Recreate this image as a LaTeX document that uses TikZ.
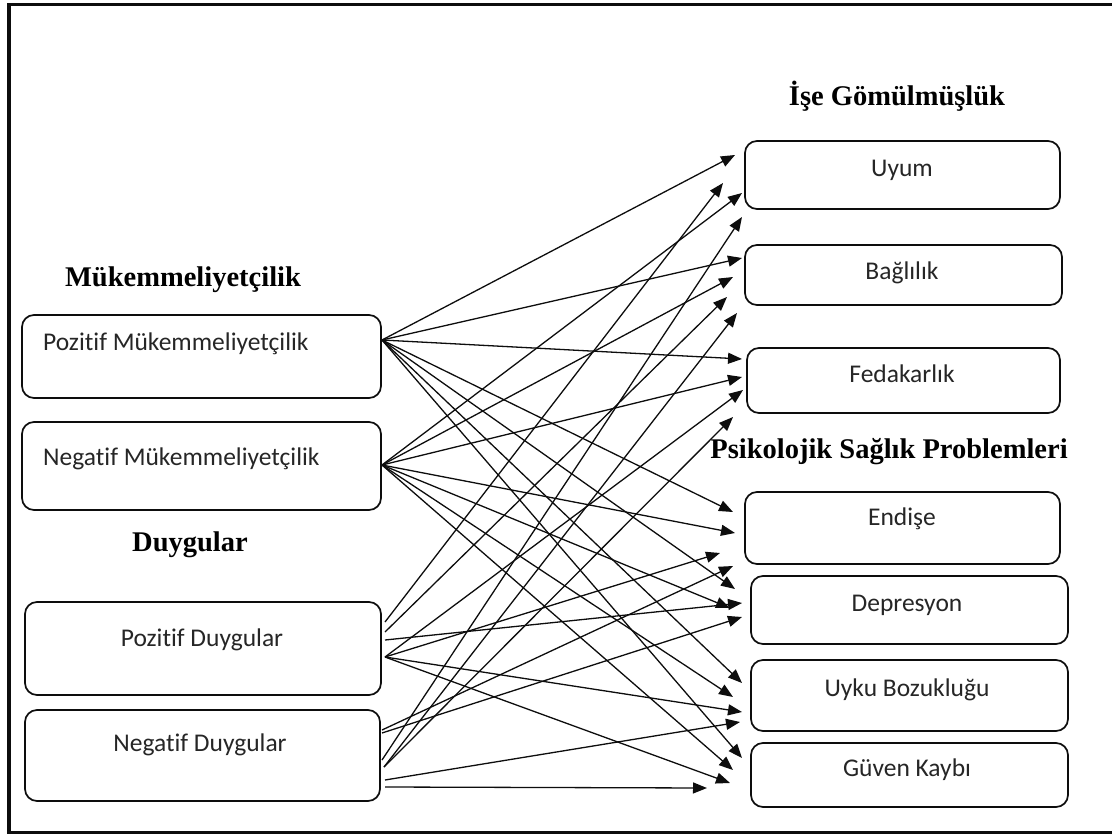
\documentclass[tikz,border=0pt]{standalone}
\usepackage{fontspec}
\setmainfont{Liberation Serif}
\newfontfamily\boxfont[Ligatures=NoCommon]{Carlito}
\usetikzlibrary{arrows.meta,fit}
\definecolor{ink}{gray}{0.05}
\definecolor{boxtext}{gray}{0.15}
\begin{document}
\begin{tikzpicture}[x=1pt,y=-1pt,
  panel/.style={draw=ink, line width=1.7pt, rounded corners=12pt, inner sep=0pt},
  item/.style={font=\boxfont\fontsize{25.5}{30}\selectfont, text=boxtext, inner sep=0pt},
  heading/.style={font=\bfseries\fontsize{28.5}{34}\selectfont, inner sep=0pt},
  link/.style={draw=ink, line width=1.3pt, -{Triangle[length=14pt,width=11pt]}}]
\useasboundingbox (0,0) rectangle (1112,836);
\fill[white] (0,0) rectangle (1112,836);
% outer frame (open on the right)
\draw[ink, line width=3.2pt] (1112,4.5) -- (9,4.5) -- (9,832.5) -- (1112,832.5);

% group headings
\node[heading] (hIse) at (897,96) {İşe Gömülmüşlük};
\node[heading] (hMuk) at (183,280) {Mükemmeliyetçilik};
\node[heading] (hDuy) at (190,545) {Duygular};
\node[heading] (hPsi) at (889,452) {Psikolojik Sağlık Problemleri};

% left panels
\node[panel, fit={(22,315) (381,398)}] (pm) {};
\node[panel, fit={(22,422) (381,510)}] (nm) {};
\node[panel, fit={(25,602) (381,695)}] (pd) {};
\node[panel, fit={(25,710) (380,801)}] (nd) {};
\node[item, anchor=west] (tpm) at (43,344) {Pozitif Mükemmeliyetçilik};
\node[item, anchor=west] (tnm) at (43,459) {Negatif Mükemmeliyetçilik};
\node[item] (tpd) at (202,640) {Pozitif Duygular};
\node[item] (tnd) at (200,745) {Negatif Duygular};

% right panels
\node[panel, fit={(745,141) (1060,209)}] (uyum) {};
\node[panel, fit={(745,245) (1062,305)}] (bag) {};
\node[panel, fit={(747,348) (1060,413)}] (fed) {};
\node[panel, fit={(745,492) (1060,564)}] (end) {};
\node[panel, fit={(751,576) (1068,644)}] (dep) {};
\node[panel, fit={(751,660) (1068,731)}] (uyku) {};
\node[panel, fit={(751,743) (1068,807)}] (guv) {};
\node[item] (tuyum) at (902,170) {Uyum};
\node[item] (tbag) at (902,273) {Bağlılık};
\node[item] (tfed) at (902,374) {Fedakarlık};
\node[item] (tend) at (902,519) {Endişe};
\node[item] (tdep) at (907,605) {Depresyon};
\node[item] (tuyku) at (907,690) {Uyku Bozukluğu};
\node[item] (tguv) at (907,770) {Güven Kaybı};

% start points of the connectors
\coordinate (sPM) at (382,340);
\coordinate (sNM) at (382,465);
\coordinate (sPDa) at (385,622);
\coordinate (sPDb) at (385,632);
\coordinate (sPDc) at (385,640);
\coordinate (sPDd) at (385,657);
\coordinate (sNDa) at (382,730);
\coordinate (sNDb) at (382,733);
\coordinate (sNDc) at (382,760);
\coordinate (sNDd) at (384,767);
\coordinate (sNDe) at (385,780);
\coordinate (sNDf) at (385,787);

% arrow tips
\coordinate (uyum1) at (735,155);
\coordinate (uyum2) at (742,193);
\coordinate (uyum3) at (723,183);
\coordinate (uyum4) at (742,217);
\coordinate (bag1) at (742,258);
\coordinate (bag2) at (733,277);
\coordinate (bag3) at (727,297);
\coordinate (bag4) at (737,313);
\coordinate (fed1) at (742,359);
\coordinate (fed2) at (742,377);
\coordinate (fed3) at (743,390);
\coordinate (fed4) at (733,417);
\coordinate (end1) at (733,512);
\coordinate (end2) at (735,533);
\coordinate (end3) at (720,553);
\coordinate (end4) at (733,566);
\coordinate (dep1) at (735,589);
\coordinate (dep2) at (730,608);
\coordinate (dep3) at (742,603);
\coordinate (dep4) at (742,617);
\coordinate (uyku1) at (742,683);
\coordinate (uyku2) at (733,697);
\coordinate (uyku3) at (742,712);
\coordinate (uyku4) at (740,722);
\coordinate (guv1) at (742,758);
\coordinate (guv2) at (733,770);
\coordinate (guv3) at (730,783);
\coordinate (guv4) at (707,788);

% Pozitif Mükemmeliyetçilik
\foreach \t in {uyum1,bag1,fed1,end1,dep1,uyku1,guv1}
  \draw[link] (sPM) -- (\t);
% Negatif Mükemmeliyetçilik
\foreach \t in {uyum2,bag2,fed2,end2,dep2,uyku2,guv2}
  \draw[link] (sNM) -- (\t);
% Pozitif Duygular
\draw[link] (sPDa) -- (uyum3);
\draw[link] (sPDb) -- (bag3);
\draw[link] (sPDc) -- (dep3);
\foreach \t in {fed3,end3,uyku3,guv3}
  \draw[link] (sPDd) -- (\t);
% Negatif Duygular
\draw[link] (sNDa) -- (end4);
\draw[link] (sNDb) -- (dep4);
\draw[link] (sNDc) -- (uyum4);
\draw[link] (sNDd) -- (bag4);
\draw[link] (sNDd) -- (fed4);
\draw[link] (sNDe) -- (uyku4);
\draw[link] (sNDf) -- (guv4);
\end{tikzpicture}
\end{document}
